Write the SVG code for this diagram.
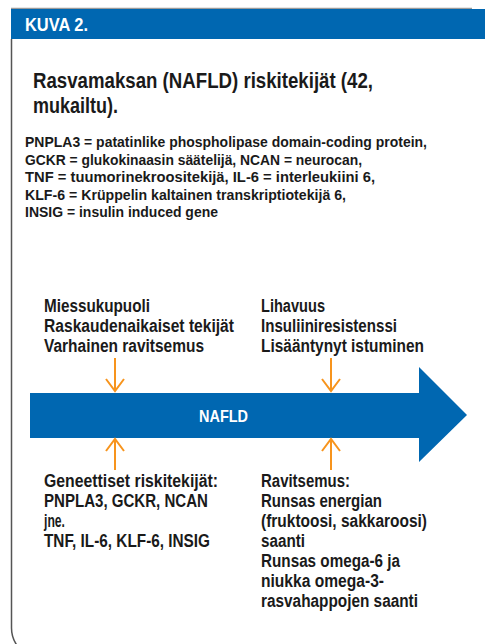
<svg xmlns="http://www.w3.org/2000/svg" width="485" height="644" viewBox="0 0 485 644">
<style>
text{font-family:"Liberation Sans",Arial,sans-serif;font-weight:bold;fill:#1a1a1a}
.s{font-size:15px}
.l{font-size:17.5px}
.w{fill:#ffffff}
.o{stroke:#f7941d;stroke-width:2;fill:none}
</style>
<rect width="485" height="644" fill="#ffffff"/>
<g id="frame">
<line x1="11" y1="8.5" x2="472" y2="8.5" stroke="#9a9a9a" stroke-width="1.5"/>
<rect x="11" y="9" width="474" height="30" fill="#0067b1"/>
<path d="M11.5 39 V628 A30 30 0 0 0 41.5 658" fill="none" stroke="#555" stroke-width="1.5"/>
<text x="25" y="31" class="w" font-size="19" textLength="63" lengthAdjust="spacingAndGlyphs">KUVA 2.</text>
</g>
<g id="title">
<text x="33" y="88" font-size="22" textLength="340" lengthAdjust="spacingAndGlyphs">Rasvamaksan (NAFLD) riskitekijät (42,</text>
<text x="33" y="113" font-size="22" textLength="85" lengthAdjust="spacingAndGlyphs">mukailtu).</text>
</g>
<g id="legend">
<text x="25" y="147" class="s" textLength="402" lengthAdjust="spacingAndGlyphs">PNPLA3 = patatinlike phospholipase domain-coding protein,</text>
<text x="25" y="164.5" class="s" textLength="337" lengthAdjust="spacingAndGlyphs">GCKR = glukokinaasin säätelijä, NCAN = neurocan,</text>
<text x="25" y="182" class="s" textLength="350" lengthAdjust="spacingAndGlyphs">TNF = tuumorinekroositekijä, IL-6 = interleukiini 6,</text>
<text x="25" y="199.5" class="s" textLength="321" lengthAdjust="spacingAndGlyphs">KLF-6 = Krüppelin kaltainen transkriptiotekijä 6,</text>
<text x="25" y="217" class="s" textLength="193" lengthAdjust="spacingAndGlyphs">INSIG = insulin induced gene</text>
</g>
<g id="nafld">
<polygon points="30,393 419,393 419,367 467,415 419,462 419,438 30,438" fill="#0067b1"/>
<text x="199" y="422" class="w" font-size="17" textLength="49" lengthAdjust="spacingAndGlyphs">NAFLD</text>
</g>
<g id="top-left">
<text x="44" y="312" class="l" textLength="106" lengthAdjust="spacingAndGlyphs">Miessukupuoli</text>
<text x="44" y="332" class="l" textLength="190" lengthAdjust="spacingAndGlyphs">Raskaudenaikaiset tekijät</text>
<text x="44" y="352" class="l" textLength="160" lengthAdjust="spacingAndGlyphs">Varhainen ravitsemus</text>
</g>
<g id="top-right">
<text x="261" y="312" class="l" textLength="64" lengthAdjust="spacingAndGlyphs">Lihavuus</text>
<text x="261" y="332" class="l" textLength="136" lengthAdjust="spacingAndGlyphs">Insuliiniresistenssi</text>
<text x="261" y="352" class="l" textLength="163" lengthAdjust="spacingAndGlyphs">Lisääntynyt istuminen</text>
</g>
<g id="bottom-left">
<text x="44" y="487" class="l" textLength="174" lengthAdjust="spacingAndGlyphs">Geneettiset riskitekijät:</text>
<text x="44" y="507" class="l" textLength="164" lengthAdjust="spacingAndGlyphs">PNPLA3, GCKR, NCAN</text>
<text x="44" y="527" class="l" textLength="21" lengthAdjust="spacingAndGlyphs">jne.</text>
<text x="44" y="547" class="l" textLength="166" lengthAdjust="spacingAndGlyphs">TNF, IL-6, KLF-6, INSIG</text>
</g>
<g id="bottom-right">
<text x="261" y="487" class="l" textLength="89" lengthAdjust="spacingAndGlyphs">Ravitsemus:</text>
<text x="261" y="507" class="l" textLength="121" lengthAdjust="spacingAndGlyphs">Runsas energian</text>
<text x="261" y="527" class="l" textLength="166" lengthAdjust="spacingAndGlyphs">(fruktoosi, sakkaroosi)</text>
<text x="261" y="547" class="l" textLength="44" lengthAdjust="spacingAndGlyphs">saanti</text>
<text x="261" y="567" class="l" textLength="139" lengthAdjust="spacingAndGlyphs">Runsas omega-6 ja</text>
<text x="261" y="587" class="l" textLength="123" lengthAdjust="spacingAndGlyphs">niukka omega-3-</text>
<text x="261" y="607" class="l" textLength="157" lengthAdjust="spacingAndGlyphs">rasvahappojen saanti</text>
</g>
<g id="connectors" class="o">
<path d="M115 358 V391 M106 379 L115 391 L124 379"/>
<path d="M331 358 V391 M322 379 L331 391 L340 379"/>
<path d="M115 470 V440 M106 451 L115 439 L124 451"/>
<path d="M331 470 V440 M322 451 L331 439 L340 451"/>
</g>
</svg>
